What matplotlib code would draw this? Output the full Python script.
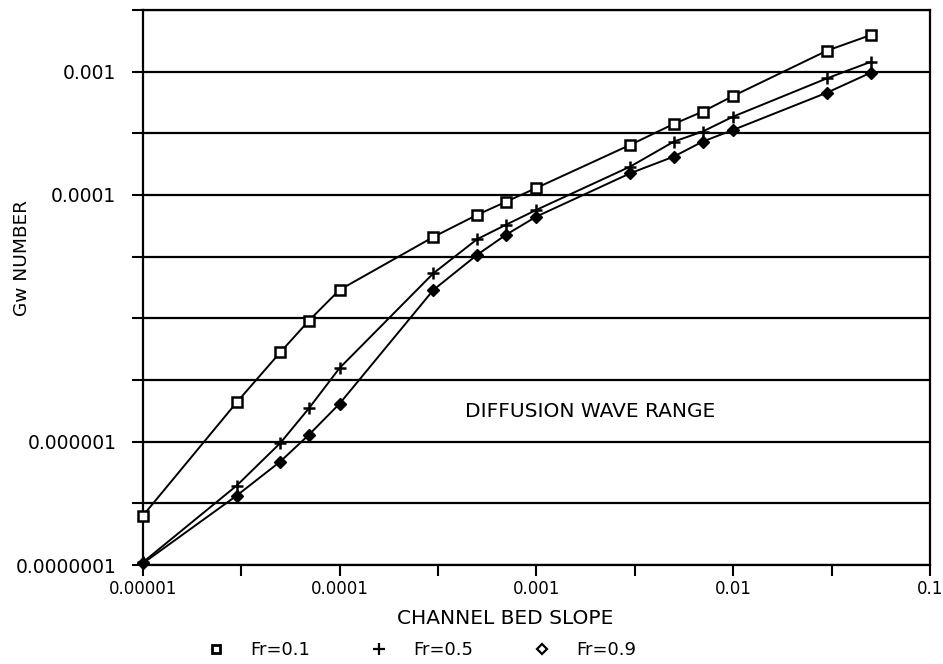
import numpy as np
import matplotlib.pyplot as plt
from matplotlib.lines import Line2D
from matplotlib.ticker import FixedLocator, FixedFormatter, NullFormatter

# channel bed slope (x) and Gw number for three Froude numbers
slope = [1e-5, 3e-5, 5e-5, 7e-5, 1e-4, 3e-4, 5e-4, 7e-4, 1e-3,
         3e-3, 5e-3, 7e-3, 1e-2, 3e-2, 5e-2]
gw_fr01 = [2.5e-7, 2.08e-6, 5.3e-6, 9.6e-6, 1.7e-5, 4.57e-5, 6.9e-5, 8.8e-5, 1.14e-4,
           2.55e-4, 3.77e-4, 4.74e-4, 6.35e-4, 1.48e-3, 1.98e-3]
gw_fr05 = [1.05e-7, 4.4e-7, 9.75e-7, 1.87e-6, 3.95e-6, 2.32e-5, 4.38e-5, 5.73e-5, 7.57e-5,
           1.7e-4, 2.71e-4, 3.27e-4, 4.32e-4, 8.83e-4, 1.2e-3]
gw_fr09 = [1.03e-7, 3.65e-7, 6.9e-7, 1.14e-6, 2.03e-6, 1.7e-5, 3.27e-5, 4.75e-5, 6.68e-5,
           1.5e-4, 2.05e-4, 2.71e-4, 3.37e-4, 6.76e-4, 9.8e-4]

x_ticks = [1e-5, 1e-4, 1e-3, 1e-2, 1e-1]
x_labels = ['0.00001', '0.0001', '0.001', '0.01', '0.1']
y_ticks = [1e-7, 1e-6, 1e-5, 1e-4, 1e-3]
y_labels = ['0.0000001', '0.000001', '', '0.0001', '0.001']

plt.rcParams['font.family'] = ['DejaVu Sans']

fig = plt.figure(figsize=(9.43, 6.64), dpi=100)
ax = fig.add_axes([0.1513, 0.149, 0.8349, 0.836])

ax.plot(slope, gw_fr01, '-', color='black', lw=1.4, marker='s', ms=7,
        mfc='white', mec='black', mew=1.8, zorder=3, clip_on=False)
ax.plot(slope, gw_fr05, '-', color='black', lw=1.4, marker='+', ms=9,
        mew=1.8, zorder=3, clip_on=False)
ax.plot(slope, gw_fr09, '-', color='black', lw=1.4, marker='D', ms=6,
        mfc='black', mec='black', zorder=3, clip_on=False)

ax.set_xscale('log')
ax.set_yscale('log')
ax.set_xlim(1e-5, 1e-1)
ax.set_ylim(1e-7, 10 ** -2.5)

# half-decade minor ticks
x_minor = [t * np.sqrt(10) for t in x_ticks[:-1]]
y_minor = [t * np.sqrt(10) for t in y_ticks]

ax.xaxis.set_major_locator(FixedLocator(x_ticks))
ax.xaxis.set_major_formatter(FixedFormatter(x_labels))
ax.xaxis.set_minor_locator(FixedLocator(x_minor))
ax.xaxis.set_minor_formatter(NullFormatter())
ax.yaxis.set_major_locator(FixedLocator(y_ticks))
ax.yaxis.set_major_formatter(FixedFormatter(y_labels))
ax.yaxis.set_minor_locator(FixedLocator(y_minor))
ax.yaxis.set_minor_formatter(NullFormatter())

ax.tick_params(axis='both', which='both', direction='out', width=1.5, color='black')
ax.tick_params(axis='x', which='both', length=8, pad=3, labelsize=12)
ax.tick_params(axis='y', which='both', length=8, pad=11, labelsize=13.5)

ax.grid(True, axis='y', which='both', color='black', lw=1.6)
for s in ax.spines.values():
    s.set_linewidth(1.6)

ax.text(0.568, 0.276, 'DIFFUSION WAVE RANGE', transform=ax.transAxes,
        ha='center', va='center', fontsize=14.5)

fig.text(505 / 943, 1 - 618 / 664, 'CHANNEL BED SLOPE', ha='center', va='center', fontsize=14.5)
fig.text(22 / 943, 1 - 258 / 664, 'Gw NUMBER', ha='center', va='center', rotation=90, fontsize=13.3)

handles = [
    Line2D([], [], ls='none', marker='s', ms=6, mfc='white', mec='black', mew=2.0),
    Line2D([], [], ls='none', marker='+', ms=8, mec='black', mew=1.6),
    Line2D([], [], ls='none', marker='D', ms=5, mfc='white', mec='black', mew=1.6),
]
fig.legend(handles, ['Fr=0.1', 'Fr=0.5', 'Fr=0.9'], loc='center', ncol=3,
           bbox_to_anchor=(0.447, 0.021), frameon=False, fontsize=13,
           columnspacing=3.3, handletextpad=1.4, handlelength=1.0)

plt.savefig('out.png', dpi=100)
plt.close()
